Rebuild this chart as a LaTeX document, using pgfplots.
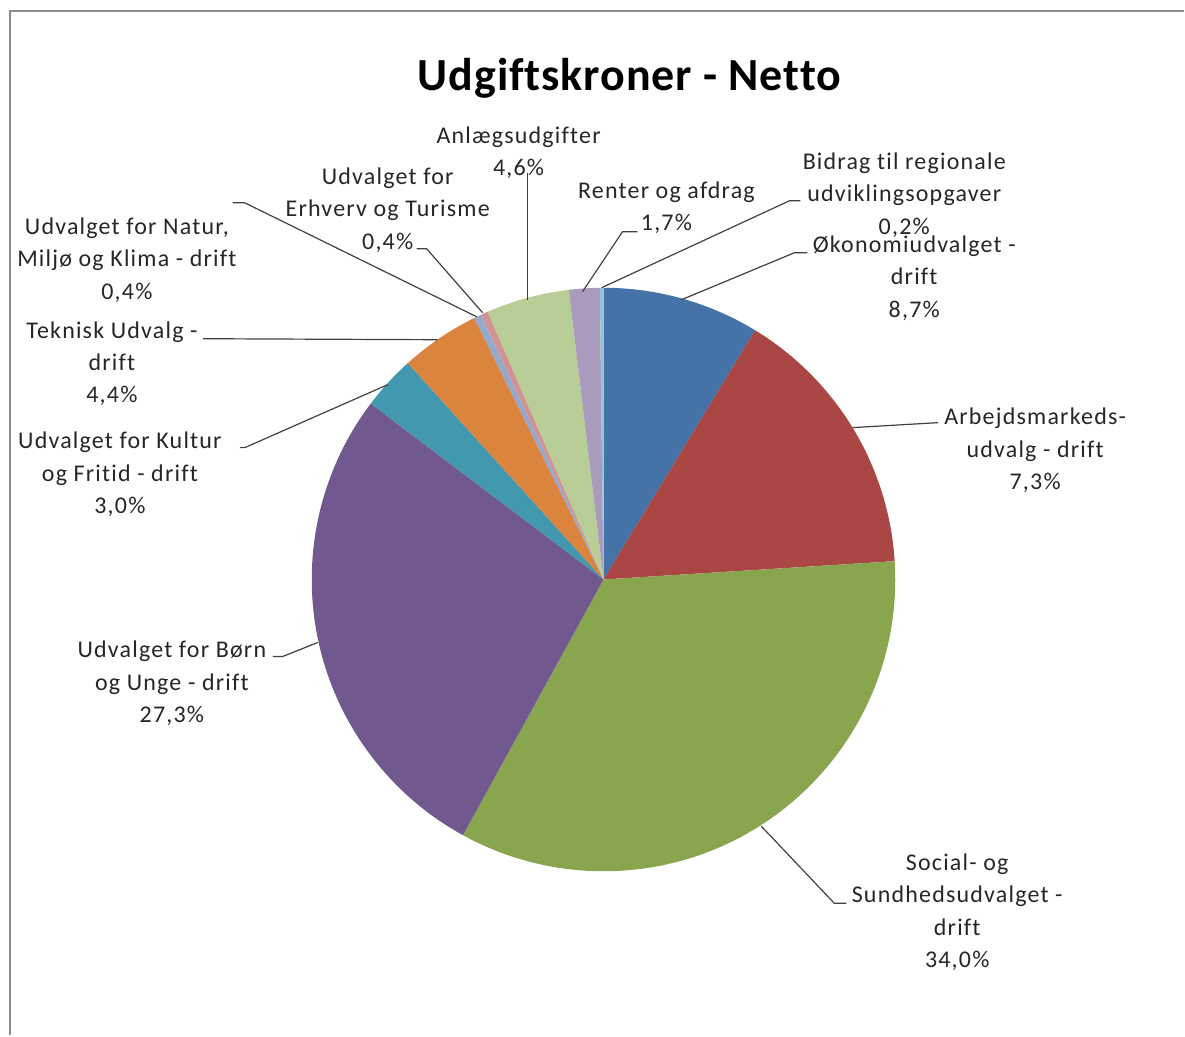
\documentclass[border=0pt]{standalone}
\usepackage{pgfplots}
\pgfplotsset{compat=1.18}
\usepackage{fontspec}
\setmainfont{Carlito}[Ligatures=NoCommon]
\newfontfamily\labelfont[LetterSpace=5,Ligatures=NoCommon]{Carlito}
\newfontfamily\titlefont[LetterSpace=2,Ligatures=NoCommon]{Carlito}
\definecolor{c1}{HTML}{4572A7}
\definecolor{c2}{HTML}{AA4643}
\definecolor{c3}{HTML}{89A54E}
\definecolor{c4}{HTML}{71588F}
\definecolor{c5}{HTML}{4198AF}
\definecolor{c6}{HTML}{DB843D}
\definecolor{c7}{HTML}{93A9CF}
\definecolor{c8}{HTML}{D19392}
\definecolor{c9}{HTML}{B9CD96}
\definecolor{c10}{HTML}{A99BBD}
\definecolor{c11}{HTML}{91C3D5}
\definecolor{leader}{HTML}{404040}
% slice shares (percent of the circle) as drawn, clockwise from 12 o'clock
\def\slices{8.7/c1, 15.3/c2, 34.0/c3, 27.3/c4, 3.0/c5, 4.4/c6, 0.4/c7, 0.4/c8, 4.6/c9, 1.7/c10, 0.2/c11}
\begin{document}
\begin{tikzpicture}
\begin{axis}[
  x=0.5pt, y=0.5pt,
  xmin=0, xmax=1185, ymin=0, ymax=1036,
  y dir=reverse,
  hide axis, clip=false,
]
\pgfplotsextra{
  \path (axis cs:0,0) rectangle (axis cs:1185,1036);
  \gdef\pieA{90}
  \foreach \v/\c in \slices {
    \pgfmathsetmacro\pieB{\pieA-3.6*\v}
    \fill[\c] (axis cs:604,580) -- ++(\pieA:146pt) arc[start angle=\pieA, end angle=\pieB, radius=146pt] -- cycle;
    \global\let\pieA\pieB
  }
  % frame
  \draw[gray!90, line width=1pt] (axis cs:10,1036) -- (axis cs:10,11) -- (axis cs:1185,11);
  % title
  \node[font=\titlefont\fontsize{23}{27}\selectfont\bfseries] at (axis cs:630,78) {Udgiftskroner - Netto};
  % leader lines
  \begin{scope}[leader, line width=0.6pt]
    \draw (axis cs:233,203) -- (axis cs:245,203) -- (axis cs:477,317);
    \draw (axis cs:417,249) -- (axis cs:427,249) -- (axis cs:483,313);
    \draw (axis cs:203,339) -- (axis cs:438,340);
    \draw (axis cs:240,448) -- (axis cs:245,448) -- (axis cs:388,385);
    \draw (axis cs:528,173) -- (axis cs:528,300);
    \draw (axis cs:638,232) -- (axis cs:623,232) -- (axis cs:583,292);
    \draw (axis cs:801,201) -- (axis cs:790,201) -- (axis cs:602,288);
    \draw (axis cs:808,253) -- (axis cs:795,253) -- (axis cs:682,300);
    \draw (axis cs:939,423) -- (axis cs:853,428);
    \draw (axis cs:847,904) -- (axis cs:835,904) -- (axis cs:762,827);
    \draw (axis cs:273,657) -- (axis cs:283,657) -- (axis cs:318,643);
  \end{scope}
  % labels
  \begin{scope}[every node/.style={align=center, font=\labelfont\fontsize{12}{16.25}\selectfont, text=black!85, inner sep=0pt}]
    \node at (axis cs:519,153) {Anlægsudgifter\\4,6\%};
    \node at (axis cs:388,210) {Udvalget for\\Erhverv og Turisme\\0,4\%};
    \node at (axis cs:667,208) {Renter og afdrag\\1,7\%};
    \node at (axis cs:905,195) {Bidrag til regionale\\udviklingsopgaver\\0,2\%};
    \node at (axis cs:915,278) {Økonomiudvalget -\\drift\\8,7\%};
    \node at (axis cs:1036,451) {Arbejdsmarkeds-\\udvalg - drift\\7,3\%};
    \node at (axis cs:958,913) {Social- og\\Sundhedsudvalget -\\drift\\34,0\%};
    \node at (axis cs:172,684) {Udvalget for Børn\\og Unge - drift\\27,3\%};
    \node at (axis cs:120,475) {Udvalget for Kultur\\og Fritid - drift\\3,0\%};
    \node at (axis cs:112,364) {Teknisk Udvalg -\\drift\\4,4\%};
    \node at (axis cs:127,260) {Udvalget for Natur,\\Miljø og Klima - drift\\0,4\%};
  \end{scope}
}
\end{axis}
\end{tikzpicture}
\end{document}
